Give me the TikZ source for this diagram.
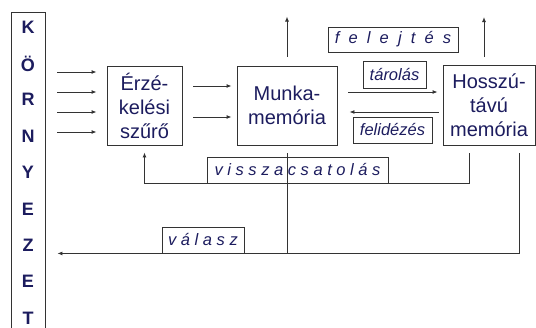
\documentclass[tikz,border=0pt]{standalone}
\usepackage{fontspec}
\setmainfont{Liberation Sans}
\usetikzlibrary{arrows.meta,positioning,calc}
\definecolor{ink}{HTML}{1C1C5E}
\definecolor{wire}{HTML}{333333}

\tikzset{
  stage/.style={draw=wire,line width=0.9pt,text=ink,align=center,inner sep=0pt,
    font=\fontsize{20}{24}\selectfont},
  tag/.style={draw=wire,line width=0.9pt,text=ink,inner sep=0pt,
    font=\fontsize{16.5}{18}\selectfont\itshape},
  arr/.style={draw=wire,line width=0.9pt,-{Latex[length=5pt,width=4pt]}},
  wire/.style={draw=wire,line width=0.9pt},
}

\begin{document}
\begin{tikzpicture}[x=1pt,y=-1pt]
  \useasboundingbox (0,0) rectangle (536,327);

  % environment column
  \node[draw=wire,line width=0.9pt,minimum width=34pt,minimum height=330pt,anchor=north,inner sep=0pt]
    (env) at (28,12) {};
  \foreach \ltr [count=\i from 0] in {K,Ö,R,N,Y,E,Z,E,T}
    \node[text=ink,font=\fontsize{18}{18}\selectfont\bfseries] (env\i) at (28,27+36.4*\i) {\ltr};

  % stages
  \node[stage,minimum width=75pt,minimum height=79pt] (filter) at (144.5,105.5) {Érzé-\\kelési\\szűrő};
  \node[stage,minimum width=100pt,minimum height=79pt] (wm) at (287,105.5) {Munka-\\memória};
  \node[stage,minimum width=92pt,minimum height=80pt] (ltm) at (489,105.5) {Hosszú-\\távú\\memória};

  % labels
  \node[tag,minimum width=130pt,minimum height=25pt] (forget) at (393,39.5) {f~~e~~l~~e~~j~~t~~é~~s};
  \node[tag,minimum width=63pt,minimum height=27pt] (store) at (394.5,74.5) {tárolás};
  \node[tag,minimum width=79pt,minimum height=26pt] (recall) at (392.5,130) {felidézés};
  \node[tag,minimum width=181pt,minimum height=26pt] (vissza) at (297.5,170) {v i s s z a c s a t o l á s};
  \node[tag,minimum width=82pt,minimum height=26pt] (valasz) at (203,240) {v á l a s z};

  % inputs from the environment
  \foreach \y in {72,92,112,132}
    \draw[arr,shorten >=10pt] (57,\y) coordinate (in) -- (in -| filter.west);

  % filter to working memory
  \foreach \y in {86,117}
    \draw[arr,shorten <=11pt,shorten >=5pt] (filter.east |- 0,\y) -- (wm.west |- 0,\y);

  % storage and retrieval
  \draw[arr,shorten <=11pt,shorten >=5pt] (wm.east |- 0,92) -- (ltm.west |- 0,92);
  \draw[arr,shorten <=4pt,shorten >=12pt] (ltm.west |- 0,112) -- (wm.east |- 0,112);

  % forgetting
  \draw[arr] ([yshift=9pt]wm.north) -- ++(0,-40);
  \draw[arr] ([xshift=-5pt,yshift=8pt]ltm.north) -- ++(0,-40);

  % feedback to the filter
  \coordinate (fb) at (469,153);
  \draw[arr,shorten >=7pt] (fb) |- (vissza.south) -| (filter);

  % response to the environment
  \coordinate (resp) at (519,153);
  \draw[arr,shorten >=12pt] (resp) |- (env.east |- valasz.south);
  \draw[wire] ([yshift=-8pt]wm.south) -- (wm.south |- valasz.south);
\end{tikzpicture}
\end{document}
